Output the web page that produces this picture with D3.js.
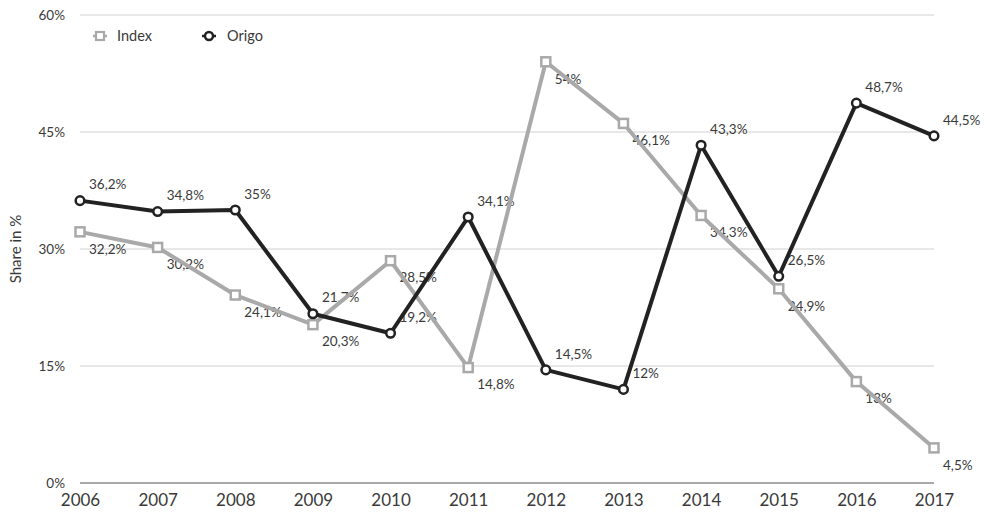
<!DOCTYPE html>
<html><head><meta charset="utf-8">
<script src="https://cdn.jsdelivr.net/npm/d3@7/dist/d3.min.js"></script>
<style>body{margin:0;background:#fff}svg{display:block}text{font-family:Lato,"Open Sans",sans-serif;font-weight:400;fill:#3a3a3a}</style>
</head><body><svg id="c" width="984" height="515"></svg>
<script>
const years = [2006,2007,2008,2009,2010,2011,2012,2013,2014,2015,2016,2017];
const indexValues = [32.2,30.2,24.1,20.3,28.5,14.8,54,46.1,34.3,24.9,13,4.5];
const origoValues = [36.2,34.8,35,21.7,19.2,34.1,14.5,12,43.3,26.5,48.7,44.5];
const yTicks = [0,15,30,45,60];
const seriesNames = ["Index","Origo"];

const svg = d3.select("#c");
const x = d3.scaleLinear().domain([2006,2017]).range([80,934]);
const y = d3.scaleLinear().domain([0,60]).range([483,15]);
const fmt = v => String(v).replace(".", ",") + "%";
const FF = "Lato,'Open Sans',sans-serif";
const TC = "#3a3a3a";

// grid
svg.append("g").selectAll("line").data(yTicks.filter(t=>t>0)).join("line")
  .attr("x1",80).attr("x2",934).attr("y1",d=>y(d)).attr("y2",d=>y(d))
  .attr("stroke","#d0d0d0").attr("stroke-width",1);
svg.append("line").attr("x1",80).attr("x2",934).attr("y1",y(0)).attr("y2",y(0))
  .attr("stroke","#555").attr("stroke-width",1.2);

// y tick labels
const yAxis = d3.axisLeft(y).tickValues(yTicks).tickFormat(d=>d+"%").tickSize(0).tickPadding(0);
const gy = svg.append("g").attr("transform","translate(65,0)").call(yAxis);
gy.select(".domain").remove();
gy.selectAll("text").attr("font-size",13.5).attr("fill",TC).style("font-family",FF);

// x tick labels
const xAxis = d3.axisBottom(x).tickValues(years).tickFormat(d=>d).tickSize(0).tickPadding(0);
const gx = svg.append("g").attr("transform","translate(0,494)").call(xAxis);
gx.select(".domain").remove();
gx.selectAll("text").attr("font-size",17).attr("fill",TC).style("font-family",FF);

// y title
svg.append("text").attr("transform","translate(21,249) rotate(-90)")
  .attr("text-anchor","middle").attr("font-size",15).text("Share in %");

const line = d3.line().x((d,i)=>x(years[i])).y(d=>y(d));

// labels (under lines)
svg.append("g").selectAll("text").data(indexValues).join("text")
  .attr("x",(d,i)=>x(years[i])+9).attr("y",d=>y(d)+17).attr("dy","0.35em")
  .attr("font-size",13.5).text(fmt);
svg.append("g").selectAll("text").data(origoValues).join("text")
  .attr("x",(d,i)=>x(years[i])+9).attr("y",d=>y(d)-16).attr("dy","0.35em")
  .attr("font-size",13.5).text(fmt);

// lines
svg.append("path").datum(indexValues).attr("d",line).attr("fill","none")
  .attr("stroke","#a9a9a9").attr("stroke-width",4).attr("stroke-linejoin","round");
svg.append("g").selectAll("rect").data(indexValues).join("rect")
  .attr("x",(d,i)=>x(years[i])-4.5).attr("y",d=>y(d)-4.5).attr("width",9).attr("height",9)
  .attr("fill","#fff").attr("stroke","#a9a9a9").attr("stroke-width",2.5);

svg.append("path").datum(origoValues).attr("d",line).attr("fill","none")
  .attr("stroke","#222").attr("stroke-width",4).attr("stroke-linejoin","round");
svg.append("g").selectAll("circle").data(origoValues).join("circle")
  .attr("cx",(d,i)=>x(years[i])).attr("cy",d=>y(d)).attr("r",4.3)
  .attr("fill","#fff").attr("stroke","#222").attr("stroke-width",2.5);

// legend
const lg = svg.append("g");
lg.append("line").attr("x1",93).attr("x2",107).attr("y1",36).attr("y2",36).attr("stroke","#a9a9a9").attr("stroke-width",2.5);
lg.append("rect").attr("x",96).attr("y",32).attr("width",8).attr("height",8).attr("fill","#fff").attr("stroke","#a9a9a9").attr("stroke-width",2.2);
lg.append("text").attr("x",117).attr("y",36).attr("dy","0.35em").attr("font-size",14.5).text(seriesNames[0]);
lg.append("line").attr("x1",202).attr("x2",216).attr("y1",36).attr("y2",36).attr("stroke","#222").attr("stroke-width",2.5);
lg.append("circle").attr("cx",209).attr("cy",36).attr("r",4).attr("fill","#fff").attr("stroke","#222").attr("stroke-width",2.5);
lg.append("text").attr("x",227).attr("y",36).attr("dy","0.35em").attr("font-size",14.5).text(seriesNames[1]);
</script></body></html>
